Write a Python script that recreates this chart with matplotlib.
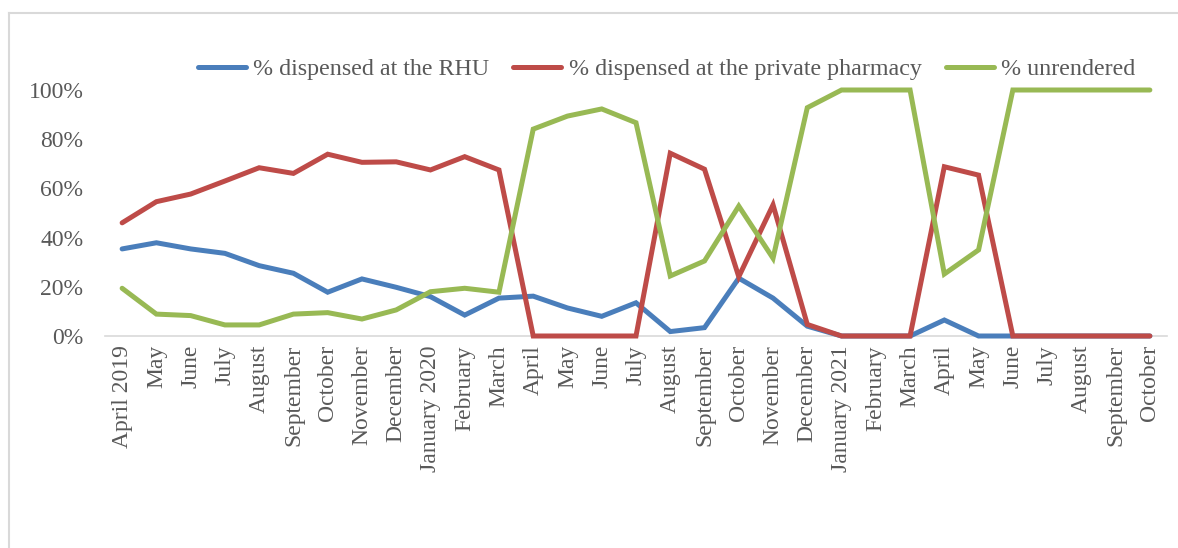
import matplotlib
matplotlib.use("Agg")
import matplotlib.pyplot as plt
from matplotlib.lines import Line2D
from matplotlib.ticker import PercentFormatter

months = ["April 2019", "May", "June", "July", "August", "September", "October",
          "November", "December", "January 2020", "February", "March", "April",
          "May", "June", "July", "August", "September", "October", "November",
          "December", "January 2021", "February", "March", "April", "May", "June",
          "July", "August", "September", "October"]

rhu = [35.4, 37.9, 35.4, 33.6, 28.6, 25.5, 17.8, 23.2, 19.8, 16.0, 8.5, 15.4,
       16.2, 11.4, 8.0, 13.5, 1.8, 3.4, 23.5, 15.4, 4.0, 0, 0, 0, 6.5, 0, 0, 0,
       0, 0, 0]
private = [46.0, 54.6, 57.7, 63.0, 68.4, 66.1, 73.9, 70.6, 70.8, 67.5, 72.9, 67.5,
           0, 0, 0, 0, 74.3, 67.8, 24.1, 53.3, 4.7, 0, 0, 0, 68.8, 65.4, 0, 0,
           0, 0, 0]
unrendered = [19.4, 8.9, 8.3, 4.5, 4.5, 8.9, 9.5, 6.9, 10.6, 18.0, 19.4, 17.8,
              84.1, 89.4, 92.3, 86.7, 24.4, 30.5, 52.8, 31.6, 92.8, 100, 100, 100,
              25.2, 35.0, 100, 100, 100, 100, 100]

series_names = ["% dispensed at the RHU", "% dispensed at the private pharmacy",
                "% unrendered"]
colors = ["#4A7EBB", "#BE4B48", "#98B954"]

plt.rcParams['font.family'] = ['Liberation Serif', 'DejaVu Serif']
text_color = "#595959"

fig = plt.figure(figsize=(11.78, 5.48), dpi=100)
W, H = 1178, 548
ax = fig.add_axes([105 / W, 1 - 336 / H, (1167 - 105) / W, 246 / H])

x = list(range(len(months)))
for vals, c, name in zip([rhu, private, unrendered], colors, series_names):
    ax.plot(x, [v / 100 for v in vals], color=c, lw=3.6, label=name,
            solid_capstyle='round', solid_joinstyle='miter', clip_on=False,
            zorder=3)

ax.set_xlim(-0.5, len(months) - 0.5)
ax.set_ylim(0, 1)
ax.set_yticks([0, 0.2, 0.4, 0.6, 0.8, 1.0])
ax.yaxis.set_major_formatter(PercentFormatter(1.0, decimals=0))
ax.set_xticks(x)
ax.set_xticklabels(months, rotation=90)
ax.tick_params(axis='both', length=0, labelsize=17, colors=text_color)
ax.tick_params(axis='y', pad=15.5)
ax.tick_params(axis='x', pad=6.5)
for s in ['top', 'right', 'left']:
    ax.spines[s].set_visible(False)
ax.spines['bottom'].set_color("#D9D9D9")
ax.spines['bottom'].set_linewidth(1.2)
ax.spines['bottom'].set_zorder(1)

leg = fig.legend(loc='center', bbox_to_anchor=(666.5 / W, 1 - 69 / H), ncol=3,
                 frameon=False, fontsize=17.3, handlelength=2.0,
                 handletextpad=0.3, columnspacing=1.0)
for t in leg.get_texts():
    t.set_color(text_color)
for h in leg.legend_handles:
    h.set_solid_capstyle('round')

# outer chart border (light gray)
fig.add_artist(Line2D([9 / W, 9 / W], [0, 1 - 13 / H], color="#D9D9D9", lw=1.5,
                      transform=fig.transFigure))
fig.add_artist(Line2D([9 / W, 1], [1 - 13 / H, 1 - 13 / H], color="#D9D9D9", lw=1.5,
                      transform=fig.transFigure))

fig.savefig("out.png", dpi=100, facecolor="white")
